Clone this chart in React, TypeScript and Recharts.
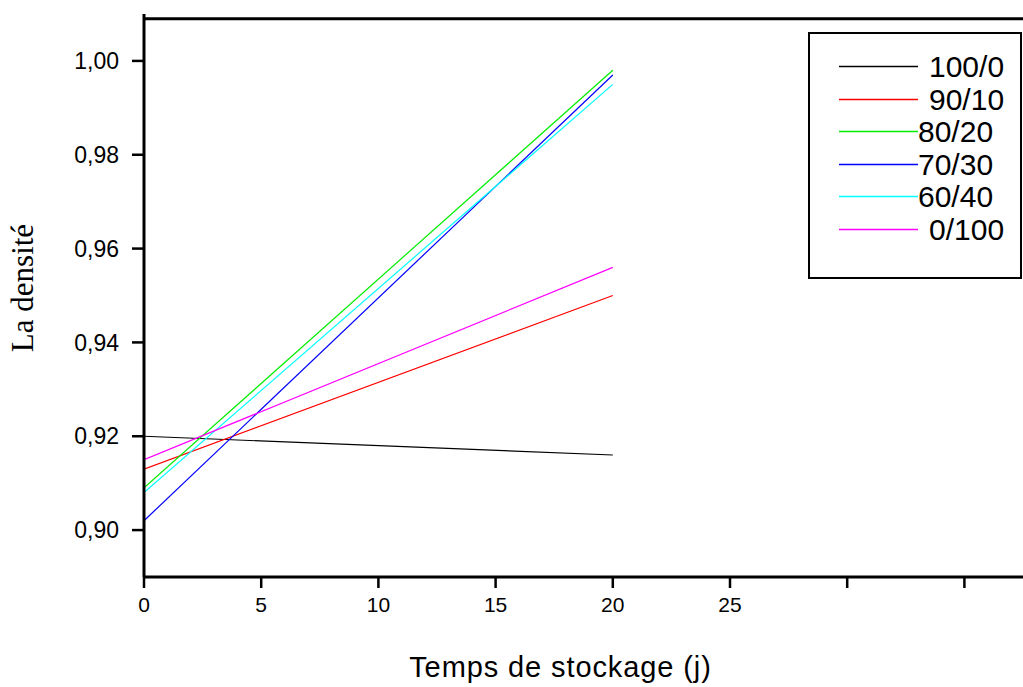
import React from 'react';
import {
  Label,
  Line,
  LineChart,
  ReferenceLine,
  XAxis,
  YAxis,
} from 'recharts';

// storage time (days)
const days = [0, 20];

// density per blend ratio
const blend100_0 = [0.92, 0.916];
const blend90_10 = [0.913, 0.95];
const blend80_20 = [0.909, 0.998];
const blend70_30 = [0.902, 0.997];
const blend60_40 = [0.908, 0.995];
const blend0_100 = [0.915, 0.956];

const xTicks = [0, 5, 10, 15, 20, 25, 30, 35];
const xTickLabels = ['0', '5', '10', '15', '20', '25', '', ''];
const xMinorTicks = [2.5, 5, 7.5, 10, 12.5, 15, 17.5, 20, 22.5, 25, 27.5, 30, 32.5, 35];
const yTicks = [0.9, 0.92, 0.94, 0.96, 0.98, 1.0];

const seriesList = [
  { key: 'b100_0', name: '100/0', color: '#000000', values: blend100_0 },
  { key: 'b90_10', name: '90/10', color: '#ff0000', values: blend90_10 },
  { key: 'b80_20', name: '80/20', color: '#00ee00', values: blend80_20 },
  { key: 'b70_30', name: '70/30', color: '#0000ff', values: blend70_30 },
  { key: 'b60_40', name: '60/40', color: '#00ffff', values: blend60_40 },
  { key: 'b0_100', name: '0/100', color: '#ff00ff', values: blend0_100 },
];

const data = days.map((d, i) => {
  const row: Record<string, number> = { day: d };
  seriesList.forEach((s) => {
    row[s.key] = s.values[i];
  });
  return row;
});

const sans = '"Liberation Sans", Arial, sans-serif';
// these legend labels sit a bit further right in the original
const shifted = ['100/0', '90/10', '0/100'];

// legend box drawn over the chart (recharts' Legend would steal plot height)
const LegendBox = () => (
  <svg
    width={214}
    height={247}
    style={{ position: 'absolute', left: 808, top: 32 }}
  >
    <rect x={1} y={1} width={212} height={245} fill="#fff" stroke="#000" strokeWidth={2} />
    {seriesList.map((s, i) => {
      const y = Math.round(34 + i * 32.6) + 0.5;
      return (
        <g key={s.key}>
          <line x1={31} x2={110} y1={y} y2={y} stroke={s.color} strokeWidth={1.4} />
          <text
            x={shifted.includes(s.name) ? 121 : 110}
            y={y}
            dominantBaseline="central"
            fontFamily={sans}
            fontSize={30}
            fill="#000"
          >
            {s.name}
          </text>
        </g>
      );
    })}
  </svg>
);

const TopTick = (props: any) => {
  const { x, y } = props;
  return <line x1={x} x2={x} y1={y + 1} y2={y + 4} stroke="#000" strokeWidth={1.5} />;
};

const YTitle = (props: any) => {
  const vb = props.viewBox || { x: 0, y: 0, height: 0 };
  const cx = vb.x + 33;
  const cy = 288;
  return (
    <text
      x={cx}
      y={cy}
      transform={`rotate(-90 ${cx} ${cy})`}
      textAnchor="middle"
      fontFamily='"Liberation Serif", "Times New Roman", serif'
      fontSize={31}
      fill="#000"
    >
      La densité
    </text>
  );
};

export default function App() {
  return (
    <div style={{ position: 'relative', width: 1023, height: 687, background: '#fff' }}>
      <style>{'body{margin:0}'}</style>
      <LineChart
        width={1023}
        height={687}
        data={data}
        margin={{ top: 14, right: 0, bottom: 0, left: 0 }}
      >
        <XAxis
          dataKey="day"
          type="number"
          domain={[0, 37.5]}
          ticks={xTicks}
          allowDataOverflow
          height={110}
          axisLine={{ stroke: '#000', strokeWidth: 3 }}
          tickLine={{ stroke: '#000', strokeWidth: 2.5 }}
          tickSize={11}
          tickMargin={9}
          tickFormatter={(v: number) => xTickLabels[xTicks.indexOf(v)] ?? ''}
          tick={{ fill: '#000', fontSize: 21, fontFamily: sans }}
        >
          <Label
            value="Temps de stockage (j)"
            position="insideBottom"
            offset={10}
            dx={-23}
            fill="#000"
            fontSize={29}
            letterSpacing={0.9}
            fontFamily={sans}
          />
        </XAxis>
        <XAxis
          xAxisId="top"
          orientation="top"
          type="number"
          dataKey="day"
          domain={[0, 37.5]}
          ticks={xMinorTicks}
          allowDataOverflow
          height={0}
          axisLine={false}
          tickLine={false}
          tickSize={0}
          tickMargin={0}
          tick={<TopTick />}
        />
        <YAxis
          type="number"
          domain={[0.89, 1.01]}
          ticks={yTicks}
          allowDataOverflow
          width={144}
          axisLine={{ stroke: '#000', strokeWidth: 3 }}
          tickLine={{ stroke: '#000', strokeWidth: 2.5 }}
          tickSize={12}
          tickMargin={13}
          tickFormatter={(v: number) => v.toFixed(2).replace('.', ',')}
          tick={{ fill: '#000', fontSize: 23, fontFamily: sans }}
        >
          <Label content={<YTitle />} />
        </YAxis>
        <ReferenceLine y={1.009} stroke="#000" strokeWidth={3} ifOverflow="visible" />
        {seriesList.map((s) => (
          <Line
            key={s.key}
            dataKey={s.key}
            name={s.name}
            stroke={s.color}
            strokeWidth={1.2}
            dot={false}
            isAnimationActive={false}
          />
        ))}
      </LineChart>
      <LegendBox />
    </div>
  );
}
